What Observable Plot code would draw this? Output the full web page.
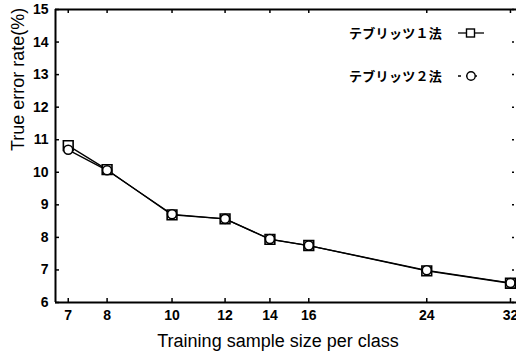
<!DOCTYPE html>
<html><head><meta charset="utf-8">
<script src="https://cdn.jsdelivr.net/npm/d3@7"></script>
<script src="https://cdn.jsdelivr.net/npm/@observablehq/plot@0.6"></script>
<style>
body{margin:0;background:#fff;}
#wrap{position:relative;width:516px;height:353px;overflow:hidden;background:#fff;}
.leg{position:absolute;left:349px;height:16px;font-family:"Noto Sans CJK JP","Noto Sans CJK SC",sans-serif;font-weight:700;font-size:13px;letter-spacing:0.3px;line-height:16px;display:flex;align-items:center;color:#000;white-space:nowrap;}
.leg svg{position:absolute;left:107px;top:0;}
</style></head><body>
<div id="wrap"></div>
<script>
// data
const sizes   = [7, 8, 10, 12, 14, 16, 24, 32];
const method1 = [10.82, 10.08, 8.69, 8.57, 7.94, 7.75, 6.97, 6.59];
const method2 = [10.69, 10.06, 8.71, 8.57, 7.95, 7.75, 6.99, 6.60];
const seriesNames = ["テブリッツ１法", "テブリッツ２法"];
const xTicks = [7, 8, 10, 12, 14, 16, 24, 32];
const yTicks = [6, 7, 8, 9, 10, 11, 12, 13, 14, 15];
const xTitle = "Training sample size per class";
const yTitle = "True error rate(%)";

const xDomain = [6.70, 32.67];
const yDomain = [6, 15];

const rows1 = sizes.map((s, i) => ({size: s, rate: method1[i]}));
const rows2 = sizes.map((s, i) => ({size: s, rate: method2[i]}));

const font = "Liberation Sans, Arial, Helvetica, sans-serif";

const chart = Plot.plot({
  width: 516,
  height: 353,
  marginLeft: 55,
  marginTop: 9,
  marginBottom: 51,
  marginRight: 0,
  style: {fontFamily: font, background: "white", overflow: "visible"},
  x: {type: "log", domain: xDomain},
  y: {domain: yDomain},
  marks: [
    // axis labels
    Plot.axisX(xTicks, {tickSize: 0, tickPadding: 8, tickFormat: d => String(d), fontSize: 14, fontWeight: "bold", label: null}),
    Plot.axisY(yTicks, {tickSize: 0, tickPadding: 7, tickFormat: d => String(d), fontSize: 14, fontWeight: "bold", label: null}),
    // frame lines (top, left, bottom)
    Plot.ruleY([yDomain[0]], {stroke: "black", strokeWidth: 2}),
    Plot.ruleY([yDomain[1]], {stroke: "black", strokeWidth: 2}),
    Plot.ruleX([xDomain[0]], {stroke: "black", strokeWidth: 2}),
    // inward ticks
    Plot.ruleX(xTicks, {insetTop: 289, stroke: "black", strokeWidth: 1.5}),
    Plot.ruleX(xTicks, {insetBottom: 289, stroke: "black", strokeWidth: 1.5}),
    Plot.ruleY(yTicks, {insetRight: 457, stroke: "black", strokeWidth: 1.5}),
    Plot.ruleY(yTicks, {insetLeft: 457, insetRight: 2, stroke: "black", strokeWidth: 1.5}),
    // series
    Plot.line(rows1, {x: "size", y: "rate", stroke: "black", strokeWidth: 1.3}),
    Plot.line(rows2, {x: "size", y: "rate", stroke: "black", strokeWidth: 1.3}),
    Plot.dot(rows1, {x: "size", y: "rate", symbol: "square", r: 5.5, fill: "white", stroke: "black", strokeWidth: 1.6}),
    Plot.dot(rows2, {x: "size", y: "rate", symbol: "circle", r: 4.5, fill: "white", stroke: "black", strokeWidth: 1.6}),
    // titles
    Plot.text([xTitle], {text: d => d, frameAnchor: "bottom", dx: -8, dy: 44, fontSize: 18, fill: "black"}),
    Plot.text([yTitle], {text: d => d, frameAnchor: "left", rotate: -90, dx: -37, dy: -5, fontSize: 18, fill: "black"})
  ]
});

const wrap = document.getElementById("wrap");
wrap.appendChild(chart);

// legend overlay
function legendItem(label, top, kind) {
  const div = document.createElement("div");
  div.className = "leg";
  div.style.top = top + "px";
  div.textContent = label;
  const ns = "http://www.w3.org/2000/svg";
  const svg = document.createElementNS(ns, "svg");
  svg.setAttribute("width", 30);
  svg.setAttribute("height", 16);
  if (kind === "square") {
    const l = document.createElementNS(ns, "line");
    l.setAttribute("x1", 2); l.setAttribute("x2", 28); l.setAttribute("y1", 8); l.setAttribute("y2", 8);
    l.setAttribute("stroke", "black"); l.setAttribute("stroke-width", 1.3);
    svg.appendChild(l);
    const r = document.createElementNS(ns, "rect");
    r.setAttribute("x", 10.5); r.setAttribute("y", 4); r.setAttribute("width", 8); r.setAttribute("height", 8);
    r.setAttribute("fill", "white"); r.setAttribute("stroke", "black"); r.setAttribute("stroke-width", 1.4);
    svg.appendChild(r);
  } else {
    const l = document.createElementNS(ns, "line");
    l.setAttribute("x1", 2); l.setAttribute("x2", 24); l.setAttribute("y1", 8); l.setAttribute("y2", 8);
    l.setAttribute("stroke", "black"); l.setAttribute("stroke-width", 1.3);
    l.setAttribute("stroke-dasharray", "3 5");
    svg.appendChild(l);
    const c = document.createElementNS(ns, "circle");
    c.setAttribute("cx", 15); c.setAttribute("cy", 8); c.setAttribute("r", 4.2);
    c.setAttribute("fill", "white"); c.setAttribute("stroke", "black"); c.setAttribute("stroke-width", 1.4);
    svg.appendChild(c);
  }
  div.appendChild(svg);
  wrap.appendChild(div);
}
legendItem(seriesNames[0], 25, "square");
legendItem(seriesNames[1], 68, "circle");
</script>
</body></html>
